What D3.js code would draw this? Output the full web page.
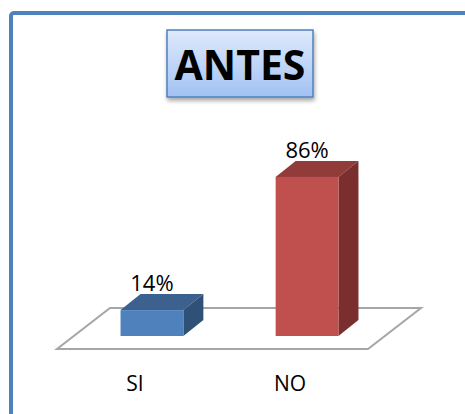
<html>
<head>
<meta charset="UTF-8">
<script src="https://cdnjs.cloudflare.com/ajax/libs/d3/7.8.5/d3.min.js"></script>
<style>
  body { margin: 0; background: #fff; }
  text { font-family: "Open Sans", "DejaVu Sans", sans-serif; }
</style>
</head>
<body>
<svg id="chart" width="465" height="414"></svg>
<script>
// datos
const categorias = ["SI", "NO"];
const valores = [14, 86];
const etiquetas = ["14%", "86%"];
const titulo = "ANTES";

const caras = {
  SI: { front: "#4f81bd", top: "#3c618f", side: "#2f5077" },
  NO: { front: "#c0504d", top: "#923c3a", side: "#7a2f2e" }
};

const svg = d3.select("#chart");

// marco azul
svg.append("rect")
  .attr("x", 11).attr("y", 13)
  .attr("width", 520).attr("height", 520)
  .attr("rx", 3)
  .attr("fill", "#fff")
  .attr("stroke", "#4f81bd")
  .attr("stroke-width", 4);

const defs = svg.append("defs");
const grad = defs.append("linearGradient")
  .attr("id", "tituloGrad").attr("x1", 0).attr("y1", 0).attr("x2", 0).attr("y2", 1);
grad.append("stop").attr("offset", "0%").attr("stop-color", "#dfeafc");
grad.append("stop").attr("offset", "100%").attr("stop-color", "#a2c2f3");

const sombra = defs.append("filter").attr("id", "sombra")
  .attr("x", "-20%").attr("y", "-20%").attr("width", "140%").attr("height", "150%");
sombra.append("feDropShadow")
  .attr("dx", 1).attr("dy", 3).attr("stdDeviation", 2)
  .attr("flood-color", "#000").attr("flood-opacity", 0.35);

// caja del titulo
svg.append("rect")
  .attr("x", 167).attr("y", 30)
  .attr("width", 146).attr("height", 67)
  .attr("fill", "url(#tituloGrad)")
  .attr("stroke", "#4f81bd")
  .attr("stroke-width", 1.5)
  .attr("filter", "url(#sombra)");

svg.append("text")
  .attr("x", 240).attr("y", 80)
  .attr("text-anchor", "middle")
  .attr("font-size", 41)
  .attr("font-weight", "bold")
  .attr("fill", "#000")
  .text(titulo);

// escalas
const base = 336;   // plano frontal de las barras
const x = d3.scaleBand()
  .domain(categorias)
  .range([74, 385])
  .paddingInner(0.595)
  .paddingOuter(0.3);

const y = d3.scaleLinear()
  .domain([0, 100])
  .range([base, base - 185]);

const dx = 20, dy = -16;     // profundidad de las barras
const fdx = 17, fdy = 13;    // del plano de barras al borde delantero del piso
const pdx = 53, pdy = -41;   // fondo del piso

// piso
const r0 = x.range()[0], r1 = x.range()[1];
const fl = [r0 - fdx, base + fdy], fr = [r1 - fdx, base + fdy];
const piso = [fl, fr, [fr[0] + pdx, fr[1] + pdy], [fl[0] + pdx, fl[1] + pdy]];
svg.append("polygon")
  .attr("points", piso.map(p => p.join(",")).join(" "))
  .attr("fill", "#fff")
  .attr("stroke", "#a6a6a6")
  .attr("stroke-width", 2);

// barras 3d
const barras = svg.append("g").selectAll("g")
  .data(categorias.map((c, i) => ({ cat: c, v: valores[i], lab: etiquetas[i] })))
  .join("g");

barras.append("polygon")
  .attr("points", d => {
    const x0 = x(d.cat), x1 = x0 + x.bandwidth(), yt = y(d.v);
    return [[x0, yt], [x1, yt], [x1 + dx, yt + dy], [x0 + dx, yt + dy]].map(p => p.join(",")).join(" ");
  })
  .attr("fill", d => caras[d.cat].top);

barras.append("polygon")
  .attr("points", d => {
    const x1 = x(d.cat) + x.bandwidth(), yt = y(d.v);
    return [[x1, yt], [x1 + dx, yt + dy], [x1 + dx, base + dy], [x1, base]].map(p => p.join(",")).join(" ");
  })
  .attr("fill", d => caras[d.cat].side);

barras.append("rect")
  .attr("x", d => x(d.cat))
  .attr("y", d => y(d.v))
  .attr("width", x.bandwidth())
  .attr("height", d => base - y(d.v))
  .attr("fill", d => caras[d.cat].front);

barras.append("text")
  .attr("x", d => x(d.cat) + x.bandwidth() / 2)
  .attr("y", d => y(d.v) + dy - 3)
  .attr("text-anchor", "middle")
  .attr("font-size", 22)
  .attr("fill", "#000")
  .text(d => d.lab);

// etiquetas de categoria
svg.append("g").selectAll("text")
  .data(categorias)
  .join("text")
  .attr("x", d => x(d) + x.bandwidth() / 2 - fdx)
  .attr("y", 391)
  .attr("text-anchor", "middle")
  .attr("font-size", 21)
  .attr("fill", "#000")
  .text(d => d);
</script>
</body>
</html>
